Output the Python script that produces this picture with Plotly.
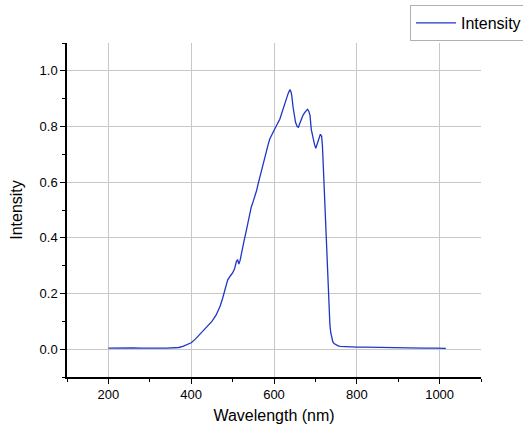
import plotly.graph_objects as go

wavelength = [200, 220, 240, 260, 280, 300, 320, 340, 360, 370, 380, 390, 400, 410, 420, 430,
              440, 450, 460, 465, 470, 476, 482, 488, 494, 500, 505, 509, 512, 515, 518, 522,
              527, 533, 539, 545, 550, 554, 558, 562, 566, 570, 574, 578, 582, 586, 590, 595,
              600, 605, 610, 614, 618, 622, 626, 630, 634, 637, 639, 641, 643, 646, 649, 652,
              656, 659, 662, 666, 670, 674, 678, 681, 684, 687, 690, 694, 698, 701, 704, 708,
              712, 715, 717, 719, 721, 723, 725, 727, 729, 731, 733, 735, 737, 739, 742, 745,
              750, 755, 760, 770, 780, 800, 820, 850, 880, 900, 930, 960, 990, 1010, 1015]
intensity = [0.004, 0.005, 0.004, 0.005, 0.004, 0.005, 0.004, 0.004, 0.005, 0.006, 0.010, 0.016,
             0.023, 0.036, 0.052, 0.068, 0.082, 0.100, 0.122, 0.136, 0.155, 0.183, 0.215, 0.248,
             0.262, 0.274, 0.290, 0.315, 0.322, 0.306, 0.318, 0.352, 0.385, 0.425, 0.468, 0.510,
             0.532, 0.548, 0.570, 0.596, 0.620, 0.650, 0.668, 0.690, 0.714, 0.736, 0.756, 0.772,
             0.786, 0.800, 0.815, 0.826, 0.846, 0.860, 0.880, 0.898, 0.918, 0.928, 0.932, 0.925,
             0.910, 0.870, 0.835, 0.815, 0.800, 0.797, 0.810, 0.826, 0.840, 0.850, 0.858, 0.862,
             0.855, 0.840, 0.790, 0.760, 0.735, 0.722, 0.738, 0.758, 0.772, 0.765, 0.730, 0.660,
             0.590, 0.510, 0.420, 0.320, 0.245, 0.180, 0.125, 0.088, 0.060, 0.040, 0.027, 0.020,
             0.015, 0.012, 0.010, 0.009, 0.008, 0.007, 0.007, 0.006, 0.006, 0.005, 0.005, 0.004,
             0.004, 0.004, 0.003]

x_ticks = [200, 400, 600, 800, 1000]
y_ticks = [0.0, 0.2, 0.4, 0.6, 0.8, 1.0]

fig = go.Figure()
fig.add_trace(go.Scatter(x=wavelength, y=intensity, mode="lines", name="Intensity",
                         line=dict(color="#1f35c8", width=1.3)))

font = "Liberation Sans, Arial, sans-serif"
fig.update_layout(
    width=523, height=430,
    margin=dict(l=67, r=42, t=43, b=53, autoexpand=False),
    paper_bgcolor="white", plot_bgcolor="white",
    font=dict(family=font, color="black", size=13),
    showlegend=True,
    legend=dict(x=0.8285, y=1.114, xanchor="left", yanchor="top",
                bordercolor="#b0b0b0", borderwidth=1, bgcolor="white",
                font=dict(size=16, family=font), itemwidth=40),
    xaxis=dict(range=[100, 1100], tickvals=x_ticks, ticktext=[str(v) for v in x_ticks],
               showline=True, linecolor="black", linewidth=1.5, ticks="outside",
               ticklen=5, tickwidth=1, tickcolor="black",
               minor=dict(dtick=100, tick0=100, ticks="outside", ticklen=3, tickcolor="black", showgrid=False),
               showgrid=True, gridcolor="#c8c8c8", gridwidth=1, zeroline=False,
               title=dict(text="Wavelength (nm)", font=dict(size=16), standoff=8),
               tickfont=dict(size=13)),
    yaxis=dict(range=[-0.1, 1.1], tickvals=y_ticks, ticktext=["%.1f" % v for v in y_ticks],
               showline=True, linecolor="black", linewidth=1.5, ticks="outside",
               ticklen=5, tickwidth=1, tickcolor="black",
               minor=dict(dtick=0.1, tick0=0.1, ticks="outside", ticklen=3, tickcolor="black", showgrid=False),
               showgrid=True, gridcolor="#c8c8c8", gridwidth=1, zeroline=False,
               title=dict(text="Intensity", font=dict(size=16), standoff=13),
               tickfont=dict(size=13)),
)
fig.write_html("out.html")
